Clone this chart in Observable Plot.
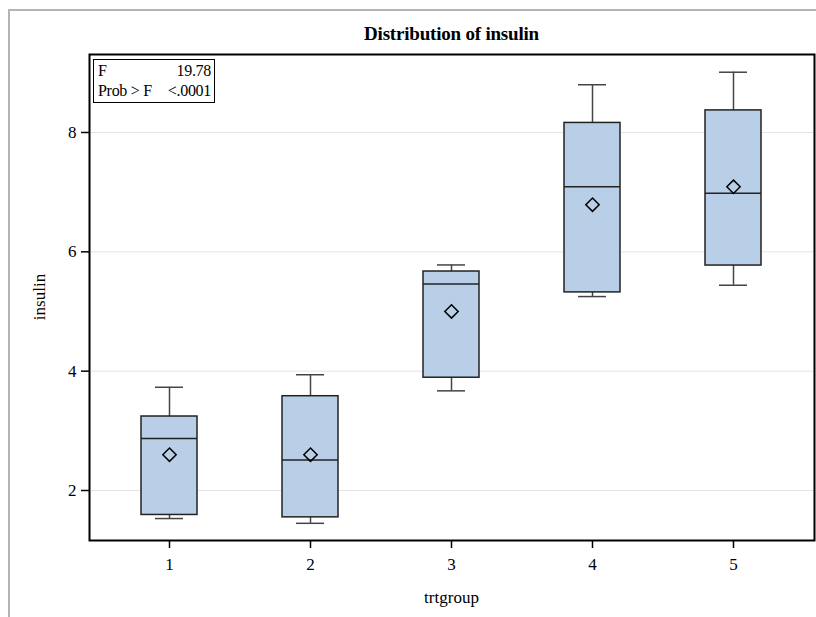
<!DOCTYPE html>
<html>
<head>
<meta charset="utf-8">
<script src="https://cdn.jsdelivr.net/npm/d3@7"></script>
<script src="https://cdn.jsdelivr.net/npm/@observablehq/plot@0.6"></script>
<style>
  html, body { margin: 0; padding: 0; background: #fff; overflow: hidden; }
  #wrap { position: relative; width: 816px; height: 617px; font-family: "Liberation Serif", "Times New Roman", serif; }
  #border { position: absolute; left: 8px; top: 9px; width: 820px; height: 700px; border-top: 2px solid #b4b4b4; border-left: 2px solid #b4b4b4; }
  #title { position: absolute; left: 89px; width: 725px; top: 23px; text-align: center; font-weight: bold; font-size: 19px; color: #000; letter-spacing: -0.2px; }
  #ylab { position: absolute; left: 40px; top: 297px; transform: translate(-50%, -50%) rotate(-90deg); font-size: 17px; white-space: nowrap; }
  #xlab { position: absolute; left: 89px; width: 725px; top: 588px; text-align: center; font-size: 17px; }
  #inset { position: absolute; left: 93px; top: 59px; width: 122px; height: 44px; border: 1.5px solid #000; font-size: 16px; line-height: 20px; box-sizing: border-box; padding: 1px 3px 0 4px; background: #fff; letter-spacing: -0.3px; }
  #inset .row { display: flex; justify-content: space-between; }
  svg { position: absolute; left: 0; top: 0; }
</style>
</head>
<body>
<div id="wrap">
  <div id="border"></div>
  <div id="chart"></div>
  <div id="title">Distribution of insulin</div>
  <div id="ylab">insulin</div>
  <div id="xlab">trtgroup</div>
  <div id="inset"><div class="row"><span>F</span><span>19.78</span></div><div class="row"><span>Prob &gt; F</span><span>&lt;.0001</span></div></div>
</div>
<script>
const groups = ["1", "2", "3", "4", "5"];
const whiskerLow = [1.53, 1.45, 3.67, 5.25, 5.44];
const q1 = [1.59, 1.55, 3.89, 5.32, 5.77];
const median = [2.87, 2.51, 5.46, 7.09, 6.98];
const q3 = [3.24, 3.58, 5.67, 8.16, 8.37];
const whiskerHigh = [3.73, 3.94, 5.78, 8.80, 9.01];
const mean = [2.60, 2.60, 5.00, 6.79, 7.09];
const yTicks = [2, 4, 6, 8];

const data = groups.map((g, i) => ({
  group: g, lo: whiskerLow[i], q1: q1[i], med: median[i], q3: q3[i], hi: whiskerHigh[i], mean: mean[i]
}));

const fillColor = "#b9cfe7";
const chart = Plot.plot({
  width: 816,
  height: 617,
  marginLeft: 89,
  marginRight: 2,
  marginTop: 54,
  marginBottom: 77,
  style: { fontFamily: "Liberation Serif, serif", fontSize: "17px", color: "#000", background: "transparent" },
  x: { type: "band", domain: groups, paddingInner: 0.6, paddingOuter: 0.356, label: null },
  y: { domain: [1.162, 9.307], label: null },
  marks: [
    Plot.gridY(yTicks, { stroke: "#e4e4e4", strokeOpacity: 1, strokeWidth: 1 }),
    Plot.ruleX(data, { x: "group", y1: "q3", y2: "hi", stroke: "#444", strokeWidth: 1.5 }),
    Plot.ruleX(data, { x: "group", y1: "lo", y2: "q1", stroke: "#444", strokeWidth: 1.5 }),
    Plot.tickY(data, { x: "group", y: "hi", stroke: "#444", strokeWidth: 1.5, insetLeft: 14, insetRight: 14 }),
    Plot.tickY(data, { x: "group", y: "lo", stroke: "#444", strokeWidth: 1.5, insetLeft: 14, insetRight: 14 }),
    Plot.barY(data, { x: "group", y1: "q1", y2: "q3", fill: fillColor, stroke: "#222", strokeWidth: 1.5 }),
    Plot.tickY(data, { x: "group", y: "med", stroke: "#222", strokeWidth: 1.5 }),
    Plot.dot(data, { x: "group", y: "mean", symbol: "diamond2", r: 6, stroke: "#000", strokeWidth: 1.5, fill: "none" }),
    Plot.axisY(yTicks, { tickSize: 8, tickPadding: 5, tickFormat: "d", stroke: "#000", strokeWidth: 1.5, label: null, fontSize: 17 }),
    Plot.axisX({ tickSize: 8, tickPadding: 9, stroke: "#000", strokeWidth: 1.5, label: null, fontSize: 17 }),
    Plot.frame({ stroke: "#000", strokeWidth: 2 })
  ]
});
document.getElementById("chart").appendChild(chart);
</script>
</body>
</html>
